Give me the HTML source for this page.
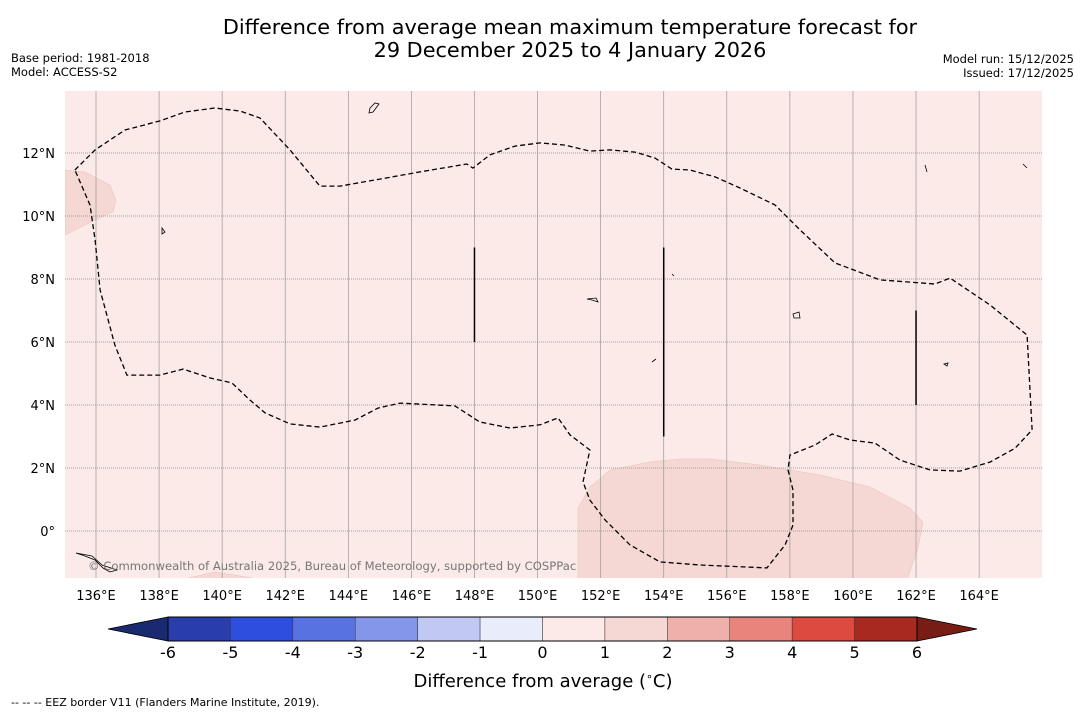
<!DOCTYPE html>
<html><head><meta charset="utf-8"><style>
body{margin:0;background:#fff;width:1085px;height:713px;overflow:hidden;font-family:"Liberation Sans","DejaVu Sans",sans-serif;}
svg text{font-family:"DejaVu Sans","Liberation Sans",sans-serif;}
</style></head><body>
<svg id="chart" width="1085" height="713" viewBox="0 0 1085 713" xmlns="http://www.w3.org/2000/svg">
<text x="570" y="34" font-size="20.8" text-anchor="middle">Difference from average mean maximum temperature forecast for</text>
<text x="570" y="57" font-size="20.8" text-anchor="middle">29 December 2025 to 4 January 2026</text>
<text x="11" y="62" font-size="11.5">Base period: 1981-2018</text>
<text x="11" y="76" font-size="11.5">Model: ACCESS-S2</text>
<text x="1074" y="63" font-size="11.5" text-anchor="end">Model run: 15/12/2025</text>
<text x="1074" y="77" font-size="11.5" text-anchor="end">Issued: 17/12/2025</text>
<defs><clipPath id="mapclip"><rect x="65" y="91" width="977" height="487"/></clipPath></defs>
<rect x="65" y="91" width="977" height="487" fill="#fbeae8"/>
<g id="map" clip-path="url(#mapclip)">
<path d="M65,170 L85,172 L110,185 L116,200 L113,212 L95,220 L65,235 Z" fill="#f5d7d4" stroke="#e8c0bc" stroke-width="0.5"/>
<path d="M578,580 L578,508 L590,487 L610,470 L650,462 L680,459 L710,459 L760,465 L820,475 L870,487 L910,508 L923,522 L918,548 L907,580 Z" fill="#f5d7d4" stroke="#e8c0bc" stroke-width="0.5"/>
<path d="M180,580 L215,572 L265,580 Z" fill="#f5d7d4" stroke="#e8c0bc" stroke-width="0.5"/>
<g id="grid"></g>
<g id="islands" fill="none" stroke="#000" stroke-width="0.8">
<path d="M370,108 L375,103 L379,104 L373,112 L369,113 Z"/>
<path d="M162,228 L165,232 L162,234 Z"/>
<path d="M587,299 L596,298 L598,302 L592,300 Z"/>
<path d="M793,314 L799,312 L800,318 L794,318 Z"/>
<path d="M944,364 L948,363 L947,366 Z"/>
<path d="M76,553 L85,556 L95,560 L103,568 L110,572 L117,570 L102,565 L92,556 Z"/>
<path d="M652,362 L656,359 M1023,164 L1027,168 M925,165 L927,172 M672,274 L674,276"/>
</g>
<g id="eez"></g>
</g>
<g id="xticks"></g>
<g id="yticks"></g>
<text x="88" y="570" font-size="11.6" fill="#777">© Commonwealth of Australia 2025, Bureau of Meteorology, supported by COSPPac</text>
<g id="colorbar"></g>
<text x="543" y="687" font-size="18" text-anchor="middle">Difference from average (<tspan font-size="11" dy="-7">∘</tspan><tspan dy="7">C)</tspan></text>
<text x="11" y="706" font-size="11">--  --  -- EEZ border V11 (Flanders Marine Institute, 2019).</text>
</svg>
<script>
const lonTicks=[136,138,140,142,144,146,148,150,152,154,156,158,160,162,164];
const latTicks=[12,10,8,6,4,2,0];
const eezLon=[135.33,135.97,136.92,138.03,138.82,139.77,140.57,141.20,142.15,143.10,143.74,145.00,146.27,147.76,147.95,148.49,149.28,150.08,150.87,151.66,152.30,153.09,153.72,154.26,154.83,155.63,156.42,157.53,158.32,159.43,160.86,162.60,163.08,164.35,165.52,165.68,165.14,164.35,163.39,162.44,161.49,160.70,159.91,159.34,158.80,158.00,157.94,158.10,158.10,157.85,157.27,155.15,153.88,152.93,152.14,151.66,151.44,151.66,151.03,150.65,150.08,149.13,148.17,147.38,145.64,144.94,144.21,143.10,142.15,141.36,140.88,140.31,139.61,138.76,138.03,136.98,136.60,136.13,135.97,135.81,135.33];
const eezLat=[11.46,12.10,12.73,13.02,13.30,13.43,13.33,13.11,12.10,10.95,10.95,11.17,11.40,11.65,11.52,11.94,12.22,12.32,12.25,12.06,12.10,12.03,11.84,11.49,11.46,11.24,10.89,10.35,9.56,8.51,7.97,7.84,8.03,7.17,6.22,3.21,2.63,2.19,1.90,1.94,2.25,2.79,2.89,3.08,2.73,2.41,1.94,1.30,0.19,-0.44,-1.17,-1.08,-0.98,-0.44,0.35,0.98,1.56,2.57,3.05,3.59,3.37,3.27,3.46,3.97,4.06,3.90,3.52,3.30,3.40,3.75,4.16,4.70,4.86,5.14,4.95,4.95,5.90,7.65,9.24,10.35,11.46];
const segLon=[148,154,162];
const segLat0=[6,3,4];
const segLat1=[9,9,7];
const cbLevels=[-6,-5,-4,-3,-2,-1,0,1,2,3,4,5,6];
const cbColors=["#2a3eab","#2e4ee0","#5872e2","#8396ea","#c0c8f3","#e9ecfa","#fbeae8","#f5d7d4","#efb0aa","#e8847c","#dc4a40","#a8291f"];
const NS="http://www.w3.org/2000/svg";
const X=lon=>96+(lon-136)*31.54;
const Y=lat=>531-lat*31.5;
function mk(tag,attrs,parent){const e=document.createElementNS(NS,tag);for(const k in attrs)e.setAttribute(k,attrs[k]);parent.appendChild(e);return e;}
const grid=document.getElementById('grid');
lonTicks.forEach(l=>{const e=mk('line',{x1:X(l),x2:X(l),y1:91,y2:578,stroke:'#999','stroke-width':0.7},grid);

});
latTicks.forEach(l=>{const e=mk('line',{x1:65,x2:1042,y1:Y(l),y2:Y(l),stroke:'#888','stroke-width':0.8,'stroke-dasharray':'1,1'},grid);

});
const eez=document.getElementById('eez');
const d=eezLon.map((l,i)=>(i?'L':'M')+X(l).toFixed(1)+','+Y(eezLat[i]).toFixed(1)).join(' ');
const p=mk('path',{d:d,fill:'none',stroke:'#000','stroke-width':1.3,'stroke-dasharray':'5,3'},eez);


segLon.forEach((l,i)=>{const e=mk('line',{x1:X(l),x2:X(l),y1:Y(segLat0[i]),y2:Y(segLat1[i]),stroke:'#000','stroke-width':1.5},eez);

});
const xt=document.getElementById('xticks');
lonTicks.forEach(l=>{const t=mk('text',{x:X(l),y:600,'font-size':13,'text-anchor':'middle'},xt);t.textContent=l+'°E';

});
const yt=document.getElementById('yticks');
latTicks.forEach(l=>{const t=mk('text',{x:55,y:Y(l)+5,'font-size':13,'text-anchor':'end'},yt);t.textContent=l===0?'0°':l+'°N';

});
const cb=document.getElementById('colorbar');
const cx0=168,cx1=917,cy0=617,cy1=641,cw=(cx1-cx0)/cbColors.length;
const lt=mk('polygon',{points:`${cx0},${cy0} 108,629 ${cx0},${cy1}`,fill:'#1a2a70',stroke:'#000','stroke-width':0.8},cb);


const rt=mk('polygon',{points:`${cx1},${cy0} 977,629 ${cx1},${cy1}`,fill:'#781c16',stroke:'#000','stroke-width':0.8},cb);


cbColors.forEach((c,i)=>{const r=mk('rect',{x:cx0+i*cw,y:cy0,width:cw,height:cy1-cy0,fill:c,stroke:'#333','stroke-width':0.5},cb);

});
mk('rect',{x:cx0,y:cy0,width:cx1-cx0,height:cy1-cy0,fill:'none',stroke:'#000','stroke-width':1},cb);
cbLevels.forEach((v,i)=>{const t=mk('text',{x:cx0+i*cw,y:658,'font-size':16,'text-anchor':'middle'},cb);t.textContent=v;

});
</script>
</body></html>
